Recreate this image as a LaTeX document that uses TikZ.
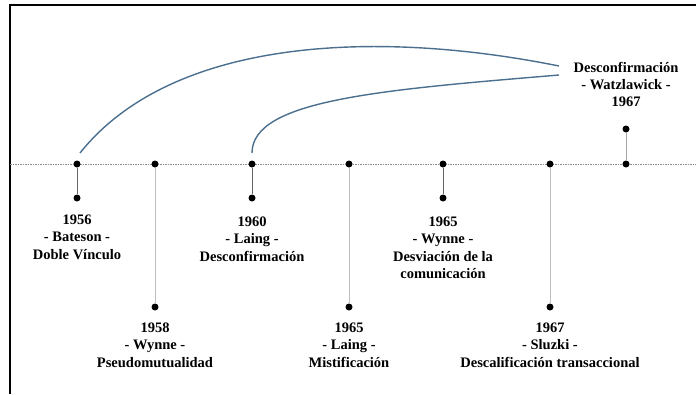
\documentclass[tikz,border=0pt]{standalone}
\usepackage{fontspec}
\setmainfont{Liberation Serif}
\usepackage{xcolor}
\usetikzlibrary{positioning}
\definecolor{arcblue}{HTML}{4B6F8E}

\begin{document}
\begin{tikzpicture}[x=1pt,y=-1pt,
    dot/.style={circle,fill=black,inner sep=0pt,minimum size=7pt},
    shortstem/.style={draw=black!60,line width=1pt},
    longstem/.style={draw=black!25,line width=1pt},
    evtext/.style={align=center,inner sep=0pt,font=\bfseries\fontsize{14.5}{17.3}\selectfont}]
  \useasboundingbox (0,0) rectangle (696,394);
  \draw[line width=2pt] (10,394) -- (10,5) -- (696,5);
  % timeline
  \coordinate (start) at (10,164);
  \coordinate (end) at (696,164);
  \draw[black!45,line width=0.6pt,dash pattern=on 1.5pt off 1pt] (start) -- (end);
  \node[dot] (t56) at (77,164) {};
  \node[dot] (b56) at (77,198) {};
  \node[dot] (t58) at (155,164) {};
  \node[dot] (b58) at (155,307) {};
  \node[dot] (t60) at (252,164) {};
  \node[dot] (b60) at (252,198) {};
  \node[dot] (t65a) at (349,164) {};
  \node[dot] (b65a) at (349,307) {};
  \node[dot] (t65b) at (443,164) {};
  \node[dot] (b65b) at (443,198) {};
  \node[dot] (t67a) at (550,164) {};
  \node[dot] (b67a) at (550,307) {};
  \node[dot] (t67b) at (626,164) {};
  \node[dot] (a67b) at (626,129) {};
  \draw[shortstem] (t56) -- (b56);
  \draw[longstem] (t58) -- (b58);
  \draw[shortstem] (t60) -- (b60);
  \draw[longstem] (t65a) -- (b65a);
  \draw[shortstem] (t65b) -- (b65b);
  \draw[longstem] (t67a) -- (b67a);
  \draw[black!35,line width=1pt] (t67b) -- (a67b);
  % labels
  \node[evtext,below=13pt of b56] (l56) {1956\\- Bateson -\\Doble Vínculo};
  \node[evtext,below=12pt of b58] (l58) {1958\\- Wynne -\\Pseudomutualidad};
  \node[evtext,below=15pt of b60] (l60) {1960\\- Laing -\\Desconfirmación};
  \node[evtext,below=12pt of b65a] (l65a) {1965\\- Laing -\\Mistificación};
  \node[evtext,below=15pt of b65b] (l65b) {1965\\- Wynne -\\Desviación de la\\comunicación};
  \node[evtext,below=12pt of b67a] (l67a) {1967\\- Sluzki -\\Descalificación transaccional};
  \node[evtext,above=18pt of a67b] (l67b) {Desconfirmación\\- Watzlawick -\\1967};
  % arcs
  \coordinate (c1) at (80,153);
  \coordinate (c2) at (252,153);
  \coordinate (w1) at (559,66);
  \coordinate (w2) at (559,75);
  \draw[arcblue,line width=1.4pt] (c1) .. controls (170,40) and (370,28) .. (w1);
  \draw[arcblue,line width=1.4pt] (c2) .. controls (252,100) and (380,90) .. (w2);
\end{tikzpicture}
\end{document}
